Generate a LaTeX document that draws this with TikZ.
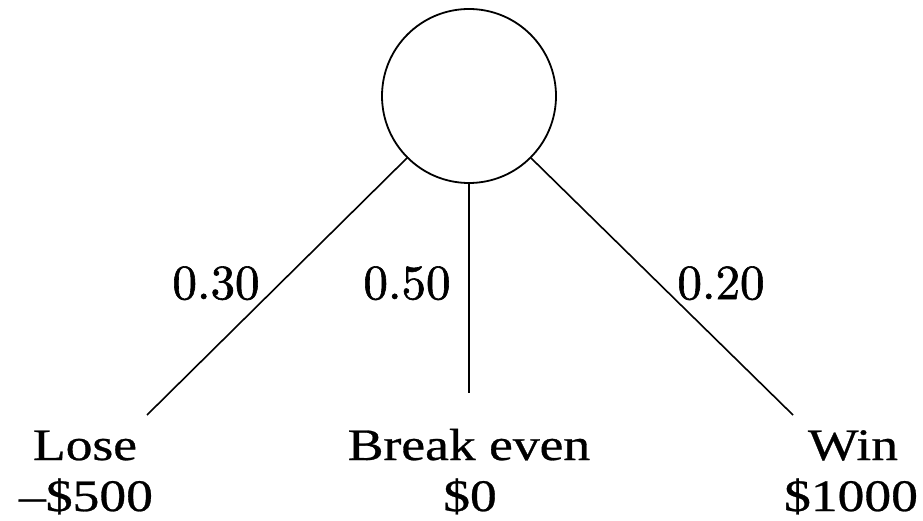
\documentclass[tikz,border=0pt]{standalone}
\usepackage{fontspec}
\newfontfamily\labfont{Liberation Serif}[FakeBold=0.6]
\newfontfamily\probfont{lmroman10-regular}[Extension=.otf, FakeBold=1.2]
\newcommand{\lab}[1]{\scalebox{1.19}[1]{#1}}
\begin{document}
\begin{tikzpicture}[x=1pt,y=1pt,
  lbl/.style={font=\labfont\fontsize{45}{47}\selectfont, inner sep=0pt, anchor=base},
  prob/.style={font=\probfont\fontsize{49}{51}\selectfont, inner sep=0pt, anchor=base},
  edge/.style={line width=1.6pt}]
\useasboundingbox (0,0) rectangle (923,520);
\node[draw, circle, line width=1.8pt, minimum size=174pt, inner sep=0pt] (c) at (469,424) {};
\coordinate (l) at (147,105);
\coordinate (m) at (469,127);
\coordinate (r) at (793,105);
\draw[edge] (c.225) -- (l);
\draw[edge] (c.south) -- (m);
\draw[edge] (c.315) -- (r);
\node[prob] (p1) at (216,221) {0.30};
\node[prob] (p2) at (407,221) {0.50};
\node[prob] (p3) at (721,221) {0.20};
\node[lbl] (o1) at (85,60) {\lab{Lose}};
\node[lbl] (v1) at (86,9) {\lab{–\$500}};
\node[lbl] (o2) at (469,60) {\lab{Break even}};
\node[lbl] (v2) at (470,9) {\lab{\$0}};
\node[lbl] (o3) at (853,60) {\lab{Win}};
\node[lbl] (v3) at (851,9) {\lab{\$1000}};
\end{tikzpicture}
\end{document}
